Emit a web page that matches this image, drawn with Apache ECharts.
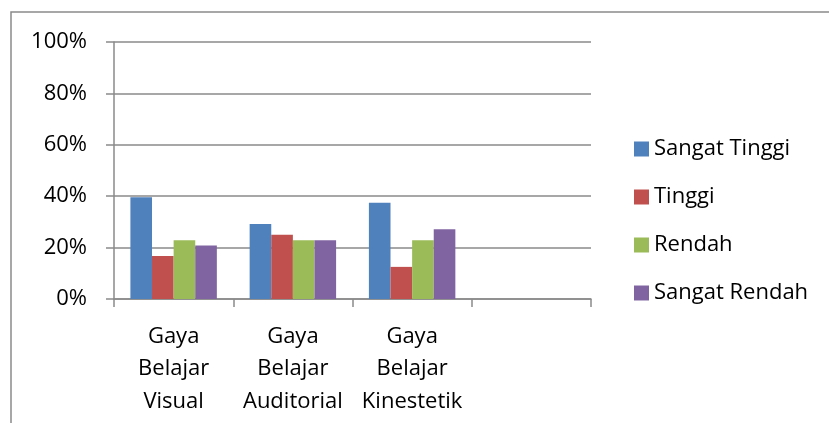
<!DOCTYPE html>
<html>
<head>
<meta charset="utf-8">
<script src="https://cdn.jsdelivr.net/npm/echarts@6/dist/echarts.min.js"></script>
<style>
html,body{margin:0;padding:0;background:#fff;}
#chart{width:829px;height:423px;}
</style>
</head>
<body>
<div id="chart"></div>
<script>
var categories = ['Gaya\nBelajar\nVisual', 'Gaya\nBelajar\nAuditorial', 'Gaya\nBelajar\nKinestetik', ''];
var seriesNames = ['Sangat Tinggi', 'Tinggi', 'Rendah', 'Sangat Rendah'];
var sangatTinggi = [39.6, 29.2, 37.5, null];
var tinggi = [16.7, 25.0, 12.5, null];
var rendah = [22.9, 22.9, 22.9, null];
var sangatRendah = [20.8, 22.9, 27.1, null];
var yTicks = [0, 20, 40, 60, 80, 100];
var colors = ['#4F81BD', '#C0504D', '#9BBB59', '#8064A2'];
var FONT = '"Open Sans", sans-serif';
var GRAY = '#8a8a8a';

var chart = echarts.init(document.getElementById('chart'), null, {renderer: 'canvas'});
var values = [sangatTinggi, tinggi, rendah, sangatRendah];
var series = seriesNames.map(function (n, i) {
  return {
    name: n,
    type: 'bar',
    data: values[i],
    barGap: '0%',
    barCategoryGap: '27.5%',
    itemStyle: {color: colors[i]},
    emphasis: {disabled: true}
  };
});

chart.setOption({
  animation: false,
  backgroundColor: '#ffffff',
  color: colors,
  graphic: [{
    type: 'rect',
    shape: {x: 11, y: 12, width: 900, height: 500},
    style: {fill: 'none', stroke: GRAY, lineWidth: 1.5},
    silent: true
  }],
  grid: {left: 114, right: 238, top: 42, bottom: 124, containLabel: false},
  legend: {
    orient: 'vertical',
    left: 634,
    top: 138,
    padding: 0,
    itemWidth: 15,
    itemHeight: 15,
    itemGap: 26,
    icon: 'rect',
    textStyle: {fontFamily: FONT, fontSize: 22, color: '#000'},
    data: seriesNames
  },
  xAxis: {
    type: 'category',
    data: categories,
    axisLine: {lineStyle: {color: GRAY, width: 1.5}},
    axisTick: {show: true, length: 8, lineStyle: {color: GRAY, width: 1.5}},
    axisLabel: {
      interval: 0,
      margin: 21,
      fontFamily: FONT,
      fontSize: 22,
      color: '#000',
      lineHeight: 32.5
    }
  },
  yAxis: {
    type: 'value',
    min: yTicks[0],
    max: yTicks[yTicks.length - 1],
    interval: yTicks[1] - yTicks[0],
    axisLine: {show: true, lineStyle: {color: GRAY, width: 1.5}},
    axisTick: {show: true, length: 8, lineStyle: {color: GRAY, width: 1.5}},
    splitLine: {lineStyle: {color: GRAY, width: 1.5}},
    axisLabel: {
      margin: 27,
      fontFamily: FONT,
      fontSize: 22,
      color: '#000',
      formatter: '{value}%'
    }
  },
  series: series
});
</script>
</body>
</html>
